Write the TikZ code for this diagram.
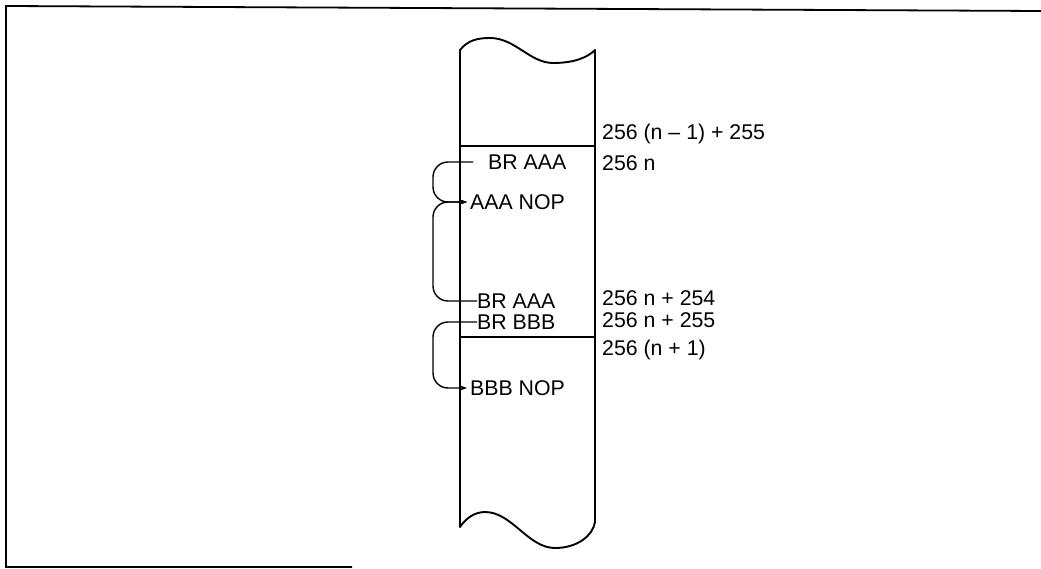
\documentclass[tikz,border=0pt]{standalone}
\usepackage{fontspec}
\setmainfont{Liberation Sans}
\usetikzlibrary{arrows.meta}
\begin{document}
\begin{tikzpicture}[x=1pt,y=-1pt,
  lbl/.style={anchor=west,inner sep=0pt,font=\fontsize{21.3}{25}\selectfont},
  frame/.style={line width=1.8pt},
  col/.style={line width=1.9pt,line join=round},
  sep/.style={line width=1.4pt},
  jump/.style={line width=1.4pt,rounded corners=15pt,-{Stealth[length=7pt,width=5pt]}}]
\useasboundingbox (0,0) rectangle (1041,569);
% frame
\draw[frame] (1041,11) -- (6,6) -- (6,567) -- (352,567);
% memory column
\draw[col] (460,50) .. controls (468,40) and (478,38) .. (490,38)
  .. controls (515,38) and (530,63) .. (553,63)
  .. controls (575,63) and (588,57) .. (595,50)
  -- (595,522)
  .. controls (593,535) and (578,548) .. (555,548)
  .. controls (528,548) and (512,512) .. (485,512)
  .. controls (475,512) and (466,518) .. (460,527) -- cycle;
\draw[sep] (460,146) -- (595,146);
\draw[sep] (460,337) -- (595,337);
% left labels
\node[lbl] (br1) at (488,162) {BR AAA};
\node[lbl] (nop1) at (470,202) {AAA NOP};
\node[lbl] (br2) at (477,301) {BR AAA};
\node[lbl] (brb) at (477,322) {BR BBB};
\node[lbl] (nopb) at (470,388) {BBB NOP};
% right addresses
\node[lbl] (a1) at (602,134) {256 (n – 1) + 255};
\node[lbl] (a2) at (602,163) {256 n};
\node[lbl] (a3) at (602,298) {256 n + 254};
\node[lbl] (a4) at (602,320) {256 n + 255};
\node[lbl] (a5) at (602,350) {256 (n + 1)};
% branch connectors
\coordinate (lx) at (433,0);
\coordinate (br1t) at ([xshift=-15pt]br1.west);
\draw[jump] (br1t) -- (br1t -| lx) -- (nop1.west -| lx) -- ([xshift=-3pt]nop1.west);
\draw[jump] (br2.west) -- (br2.west -| lx) -- (nop1.west -| lx) -- ([xshift=-3pt]nop1.west);
\draw[jump] (brb.west) -- (brb.west -| lx) -- (nopb.west -| lx) -- ([xshift=-3pt]nopb.west);
\end{tikzpicture}
\end{document}
